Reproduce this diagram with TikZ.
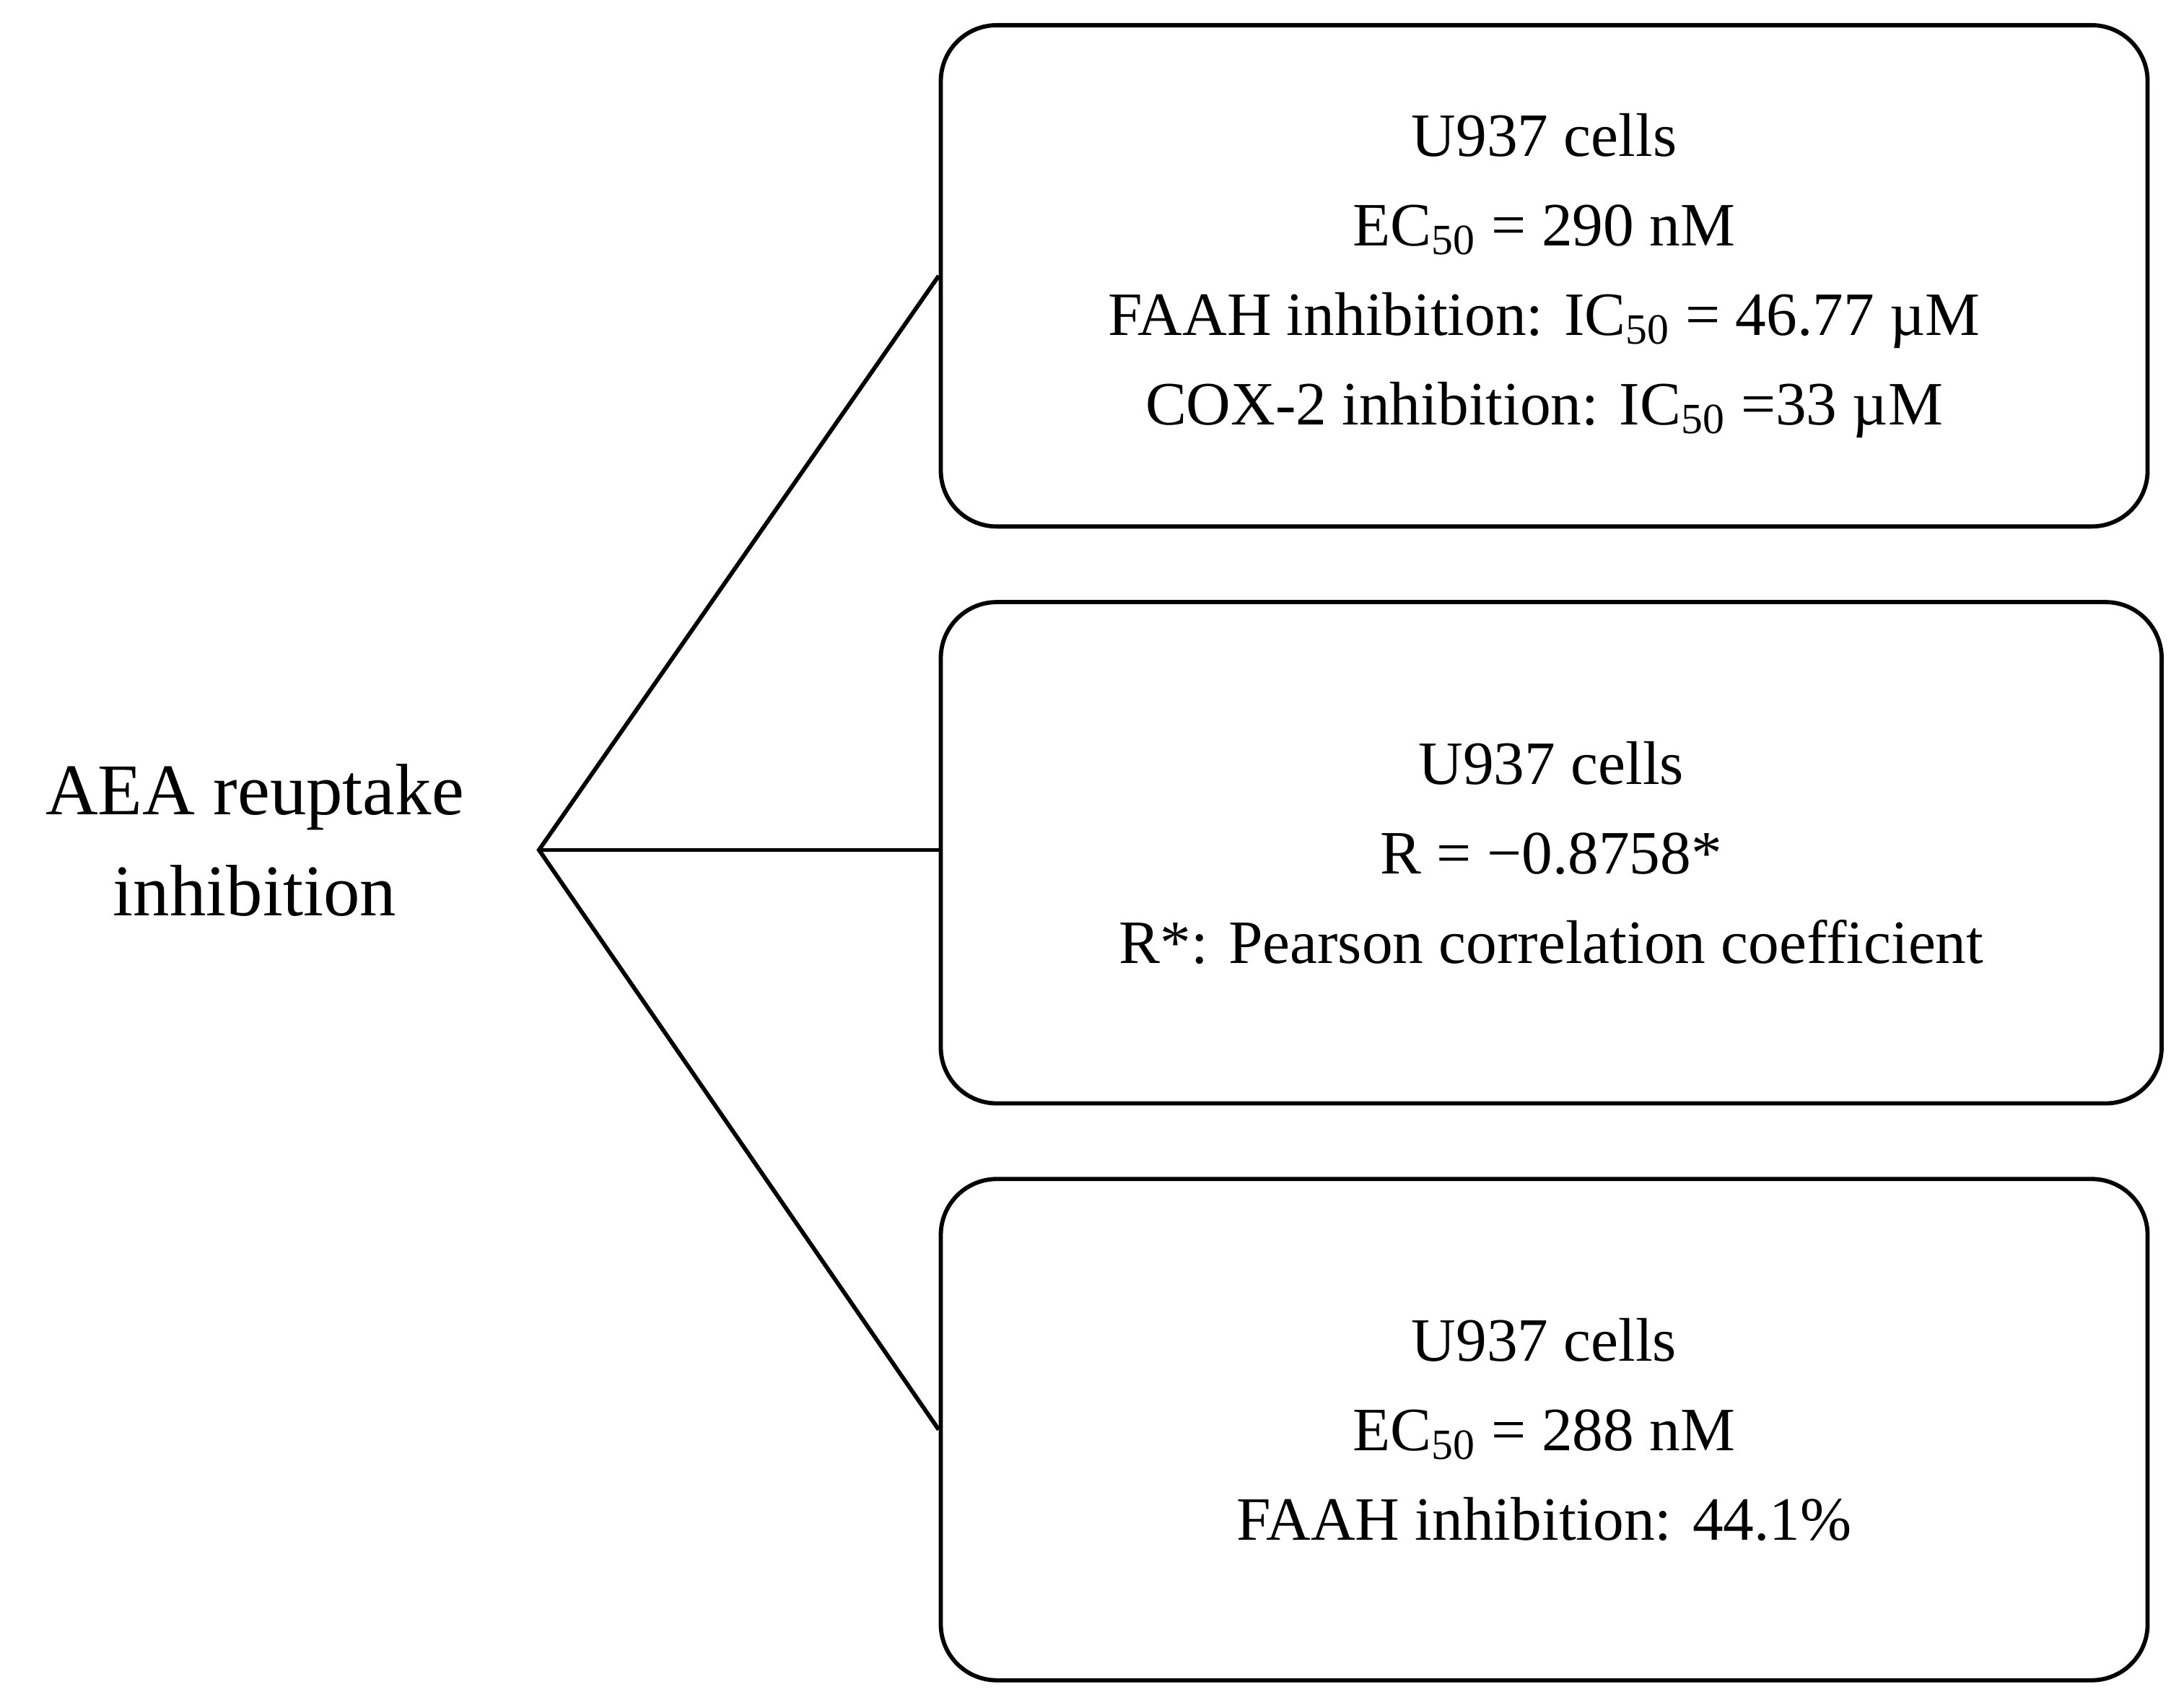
\documentclass[tikz,border=0pt]{standalone}
\usepackage{fontspec}
\setmainfont{Liberation Serif}
\usetikzlibrary{positioning}
\tikzset{
  databox/.style={draw, line width=1.5pt, rounded corners=20pt, align=center,
    minimum width=431pt, minimum height=179pt, font=\fontsize{22}{32}\selectfont},
  branch/.style={line width=1.5pt}
}
\begin{document}
\begin{tikzpicture}[x=0.5pt,y=-0.5pt]
    \useasboundingbox (0,0) rectangle (1560,1214);
    % Etichetta a sinistra
    \node[align=center, font=\fontsize{26}{36}\selectfont] (aea) at (182,600) {AEA reuptake\\inhibition};
    \coordinate (hub) at (385,607);

    % Riquadri
    \node[databox] (top) at (1103,197) {U937 cells\\EC\textsubscript{50} = 290 nM\\FAAH inhibition: IC\textsubscript{50} = 46.77 µM\\COX-2 inhibition: IC\textsubscript{50} =33 µM};
    \node[databox, minimum width=436pt] (mid) at (1108,609) {U937 cells\\R = −0.8758*\\R*: Pearson correlation coefficient};
    \node[databox] (bot) at (1103,1021) {U937 cells\\EC\textsubscript{50} = 288 nM\\FAAH inhibition: 44.1\%};

    % Rami
    \draw[branch] (top.west) -- (hub) -- (bot.west);
    \draw[branch] (hub) -- (mid.west |- hub);
\end{tikzpicture}
\end{document}
